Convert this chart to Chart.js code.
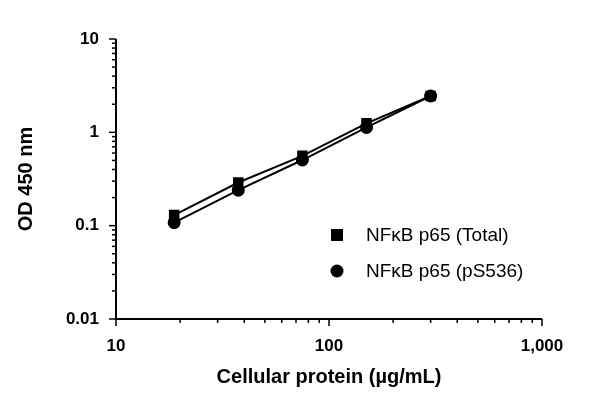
<!DOCTYPE html>
<html>
<head>
<meta charset="utf-8">
<script src="https://cdn.jsdelivr.net/npm/chart.js@4"></script>
<style>
  html, body { margin: 0; padding: 0; background: #fff; }
  #wrap { width: 600px; height: 403px; }
</style>
</head>
<body>
<div id="wrap"><canvas id="chart"></canvas></div>
<script>
const protein = [18.75, 37.5, 75, 150, 300]
const odTotal = [0.13, 0.29, 0.56, 1.25, 2.45]
const odPhospho = [0.108, 0.24, 0.505, 1.13, 2.45]
const xMajor = [10, 100, 1000]
const yMajor = [0.01, 0.1, 1, 10]
const seriesNames = ['NF\u03BAB p65 (Total)', 'NF\u03BAB p65 (pS536)']

const font = 'Liberation Sans, Arial, sans-serif'

function minorTicks(majors) {
  const out = []
  for (let i = 0; i < majors.length - 1; i++) {
    for (let k = 2; k <= 9; k++) out.push(majors[i] * k)
  }
  return out
}

// axis lines, minor/major tick marks and the legend inside the plot
const axesPlugin = {
  id: 'axesPlugin',
  afterDraw(chart) {
    const { ctx, chartArea: a, scales } = chart
    ctx.save()
    ctx.strokeStyle = '#000'
    ctx.lineWidth = 2
    ctx.beginPath()
    ctx.moveTo(a.left, a.top)
    ctx.lineTo(a.left, a.bottom)
    ctx.lineTo(a.right, a.bottom)
    ctx.stroke()
    ctx.lineWidth = 1.5
    yMajor.forEach((v) => {
      const y = scales.y.getPixelForValue(v)
      ctx.beginPath(); ctx.moveTo(a.left - 7, y); ctx.lineTo(a.left, y); ctx.stroke()
    })
    minorTicks(yMajor).forEach((v) => {
      const y = scales.y.getPixelForValue(v)
      ctx.beginPath(); ctx.moveTo(a.left - 4, y); ctx.lineTo(a.left, y); ctx.stroke()
    })
    xMajor.forEach((v) => {
      const x = scales.x.getPixelForValue(v)
      ctx.beginPath(); ctx.moveTo(x, a.bottom); ctx.lineTo(x, a.bottom + 7); ctx.stroke()
    })
    minorTicks(xMajor).forEach((v) => {
      const x = scales.x.getPixelForValue(v)
      ctx.beginPath(); ctx.moveTo(x, a.bottom); ctx.lineTo(x, a.bottom + 4); ctx.stroke()
    })

    // legend
    ctx.fillStyle = '#000'
    ctx.font = '19px ' + font
    ctx.textBaseline = 'middle'
    ctx.fillRect(331, 229, 12, 12)
    ctx.beginPath(); ctx.arc(337, 271, 6.5, 0, Math.PI * 2); ctx.fill()
    ctx.fillText(seriesNames[0], 366, 236)
    ctx.fillText(seriesNames[1], 366, 272)
    ctx.restore()
  },
}

const ctx = document.getElementById('chart').getContext('2d')
new Chart(ctx, {
  type: 'line',
  data: {
    datasets: [
      {
        label: seriesNames[0],
        data: protein.map((x, i) => ({ x, y: odTotal[i] })),
        borderColor: '#000',
        backgroundColor: '#000',
        borderWidth: 2,
        pointStyle: 'rect',
        pointRadius: 6,
      },
      {
        label: seriesNames[1],
        data: protein.map((x, i) => ({ x, y: odPhospho[i] })),
        borderColor: '#000',
        backgroundColor: '#000',
        borderWidth: 2,
        pointStyle: 'circle',
        pointRadius: 5.5,
      },
    ],
  },
  options: {
    responsive: true,
    maintainAspectRatio: false,
    animation: false,
    layout: { padding: { top: 39, right: 58, bottom: 10, left: 10 } },
    plugins: { legend: { display: false }, tooltip: { enabled: false } },
    scales: {
      x: {
        type: 'logarithmic',
        min: 10,
        max: 1000,
        border: { display: false },
        grid: { display: false },
        afterBuildTicks: (s) => { s.ticks = xMajor.map((v) => ({ value: v })) },
        afterFit: (s) => { s.height = 74 },
        ticks: {
          color: '#000',
          font: { family: font, size: 17, weight: 'bold' },
          padding: 9,
          maxRotation: 0,
          callback: (v) => v.toLocaleString('en-US'),
        },
        title: {
          display: true,
          text: 'Cellular protein (\u00B5g/mL)',
          color: '#000',
          font: { family: font, size: 20, weight: 'bold' },
          padding: { top: 2 },
        },
      },
      y: {
        type: 'logarithmic',
        min: 0.01,
        max: 10,
        border: { display: false },
        grid: { display: false },
        afterBuildTicks: (s) => { s.ticks = yMajor.map((v) => ({ value: v })) },
        afterFit: (s) => { s.width = 106 },
        ticks: {
          color: '#000',
          font: { family: font, size: 17, weight: 'bold' },
          padding: 9,
          callback: (v) => String(v),
        },
        title: {
          display: true,
          text: 'OD 450 nm',
          color: '#000',
          font: { family: font, size: 20, weight: 'bold' },
          padding: { bottom: 10 },
        },
      },
    },
  },
  plugins: [axesPlugin],
})
</script>
</body>
</html>
